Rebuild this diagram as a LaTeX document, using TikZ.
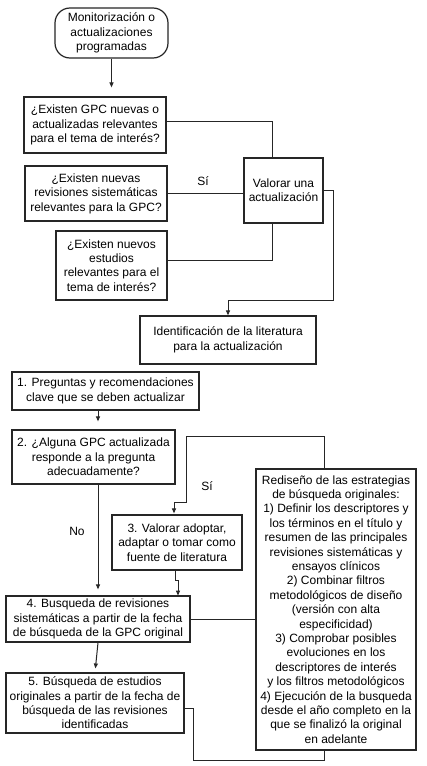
\documentclass[tikz,border=0pt]{standalone}
\usepackage{fontspec}
\setmainfont{Liberation Sans}
\usetikzlibrary{arrows.meta,calc}
\begin{document}
\begin{tikzpicture}[x=1pt,y=-1pt,
  lc/.style={draw=black!85},
  bx/.style={lc,line width=1.2pt,inner sep=0pt,align=center,
    font=\fontsize{12}{14.4}\selectfont},
  wire/.style={lc,line width=1pt},
  arr/.style={wire,-{Triangle[length=5pt,width=4pt]}},
  lbl/.style={font=\fontsize{12}{14.4}\selectfont,inner sep=0pt}]
\useasboundingbox[fill=white] (0,0) rectangle (427,766);
\node[bx,rounded corners=15pt,minimum width=113pt,minimum height=50pt] (term) at (111.5,33) {Monitorización o\\actualizaciones\\programadas};
\node[bx,minimum width=142pt,minimum height=56pt] (A) at (95,125) {¿Existen GPC nuevas o\\actualizadas relevantes\\para el tema de interés?};
\node[bx,minimum width=79pt,minimum height=65pt] (val) at (283.5,190.5) {Valorar una\\actualización};
\node[bx,minimum width=142pt,minimum height=55pt] (B) at (96,193.5) {¿Existen nuevas\\revisiones sistemáticas\\relevantes para la GPC?};
\node[bx,minimum width=111pt,minimum height=69pt] (C) at (111.5,265.5) {¿Existen nuevos\\estudios\\relevantes para el\\tema de interés?};
\node[bx,minimum width=176pt,minimum height=48pt] (ident) at (228,340) {Identificación de la literatura\\para la actualización};
\node[bx,minimum width=187pt,minimum height=38pt] (b1) at (105.5,391) {1. Preguntas y recomendaciones\\clave que se deben actualizar};
\node[bx,minimum width=163pt,minimum height=54pt] (b2) at (93.5,457) {2. ¿Alguna GPC actualizada\\responde a la pregunta\\adecuadamente?};
\node[bx,minimum width=160pt,minimum height=281pt] (red) at (336,609.5) {Rediseño de las estrategias\\de búsqueda originales:\\1) Definir los descriptores y\\los términos en el título y\\resumen de las principales\\revisiones sistemáticas y\\ensayos clínicos\\2) Combinar filtros\\metodológicos de diseño\\(versión con alta\\especificidad)\\3) Comprobar posibles\\evoluciones en los\\descriptores de interés\\y los filtros metodológicos\\4) Ejecución de la busqueda\\desde el año completo en la\\que se finalizó la original\\en adelante};
\node[bx,minimum width=130pt,minimum height=55pt] (b3) at (177,542.5) {3. Valorar adoptar,\\adaptar o tomar como\\fuente de literatura};
\node[bx,minimum width=184pt,minimum height=46pt] (b4) at (98,619) {4. Busqueda de revisiones\\sistemáticas a partir de la fecha\\de búsqueda de la GPC original};
\node[bx,minimum width=178pt,minimum height=60pt] (b5) at (95,703) {5. Búsqueda de estudios\\originales a partir de la fecha de\\búsqueda de las revisiones\\identificadas};
\node[lbl] (si1) at (203,181) {Sí};
\node[lbl] (si2) at (207,486) {Sí};
\node[lbl] (no) at (77,531) {No};
% connectors
\draw[arr,shorten >=9pt] (term.south) -- (term.south |- A.north);
\draw[wire] ([yshift=4pt]A.east) -| ([xshift=-11.5pt]val.north);
\draw[wire] (B.east) -- (B.east -| val.west);
\draw[wire] ([yshift=5.5pt]C.east) -| ([xshift=-11.5pt]val.south);
\draw[arr] (val.east) -- ++(10,0) -- ++(0,109.5) -| (ident.north);
\draw[arr,shorten >=8pt] ([xshift=-7.5pt]b1.south) -- ([xshift=-7.5pt]b1.south |- b2.north);
\draw[arr,shorten >=6pt] ([xshift=4.5pt]b2.south) -- ([xshift=4.5pt]b2.south |- b4.north);
\draw[arr,shorten >=1pt] ([xshift=-12pt]red.north) -- ++(0,-32) -| (186,502) -| ([xshift=-3pt]b3.north);
\draw[arr,shorten >=1pt] ([xshift=-2pt]b3.south) -- ++(0,10) -- ++(3,0) -- ++(0,16);
\draw[wire] (b4.east) -- (b4.east -| red.west);
\draw[arr,shorten >=4pt] (b4.south) -- (b5.north);
\draw[wire] ([yshift=-5pt]b5.east) -- ++(9,0) -- ++(0,52) -| ([xshift=-12pt]red.south);
\end{tikzpicture}
\end{document}
